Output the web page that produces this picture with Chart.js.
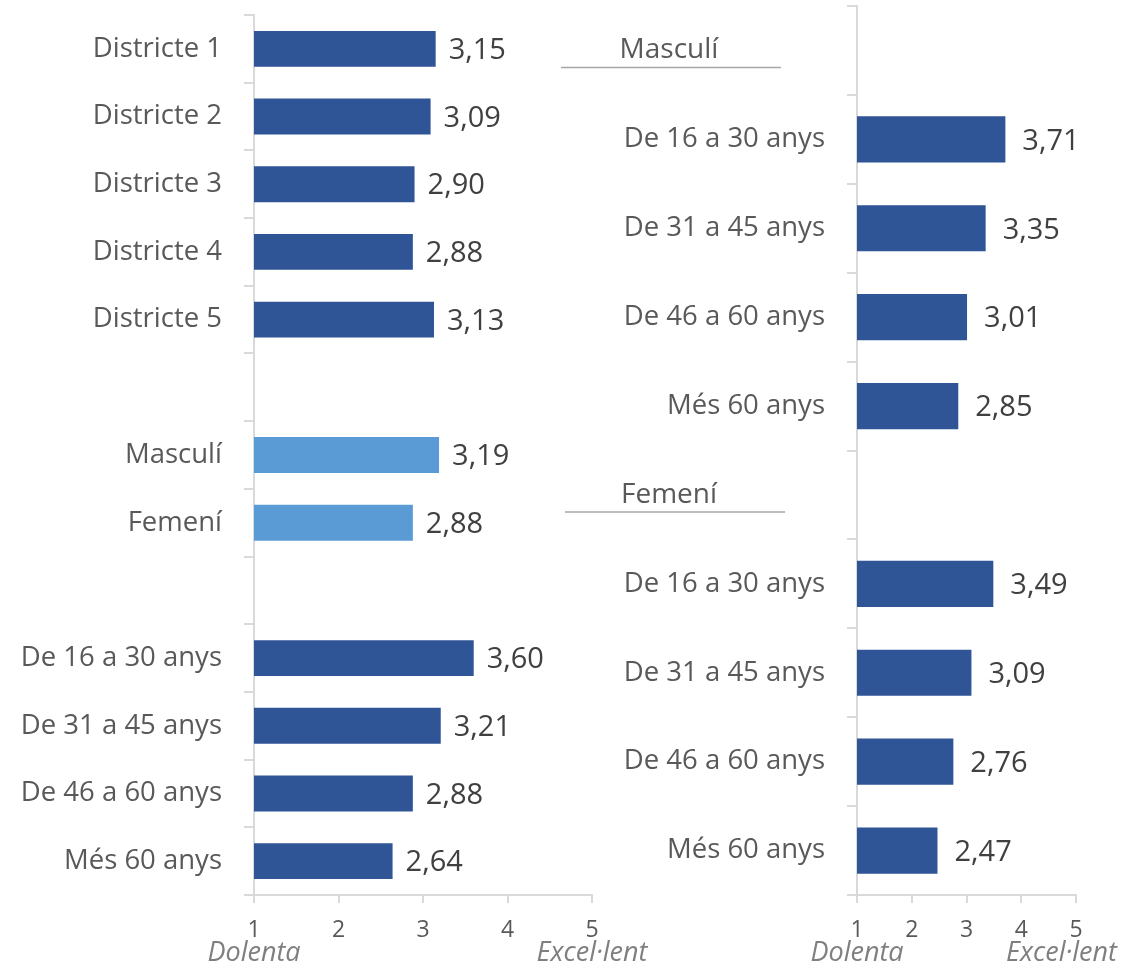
<!DOCTYPE html>
<html>
<head>
<meta charset="utf-8">
<script src="https://cdn.jsdelivr.net/npm/chart.js@4"></script>
<style>
  body { margin: 0; background: #fff; overflow: hidden; }
  #wrap { position: relative; width: 1122px; height: 965px; }
  canvas { position: absolute; top: 0; }
  #esquerra { left: 0; }
  #dreta { left: 540px; }
</style>
</head>
<body>
<div id="wrap">
  <canvas id="esquerra" width="660" height="965"></canvas>
  <canvas id="dreta" width="582" height="965"></canvas>
</div>
<script>
// dades del grafic de l'esquerra (files buides = separadors)
const categories_esq = ['Districte 1', 'Districte 2', 'Districte 3', 'Districte 4', 'Districte 5', '',
  'Masculí', 'Femení', '',
  'De 16 a 30 anys', 'De 31 a 45 anys', 'De 46 a 60 anys', 'Més 60 anys'];
const valors_esq = [3.15, 3.09, 2.90, 2.88, 3.13, null, 3.19, 2.88, null, 3.60, 3.21, 2.88, 2.64];

// dades del grafic de la dreta (edat dins de cada sexe)
const categories_dreta = ['', 'De 16 a 30 anys', 'De 31 a 45 anys', 'De 46 a 60 anys', 'Més 60 anys',
  '', 'De 16 a 30 anys', 'De 31 a 45 anys', 'De 46 a 60 anys', 'Més 60 anys'];
const valors_dreta = [null, 3.71, 3.35, 3.01, 2.85, null, 3.49, 3.09, 2.76, 2.47];
const grups_dreta = ['Masculí', 'Femení'];
const files_grups = [0, 5];

const escala_ticks = [1, 2, 3, 4, 5];
const etiqueta_min = 'Dolenta';
const etiqueta_max = 'Excel·lent';
const ressaltats = ['Masculí', 'Femení'];

const FONT = "'Open Sans', sans-serif";
const fosc = '#2F5597';
const clar = '#5B9BD5';
const gris_eix = '#d9d9d9';

function coma(v) {
  return v.toFixed(2).replace('.', ',');
}

// etiquetes de valor al final de cada barra
const etiquetes_valor = {
  id: 'etiquetes_valor',
  afterDatasetsDraw(chart, args, opts) {
    const ctx = chart.ctx;
    const meta = chart.getDatasetMeta(0);
    const data = chart.data.datasets[0].data;
    ctx.save();
    ctx.font = '29px ' + FONT;
    ctx.fillStyle = '#404040';
    ctx.textAlign = 'left';
    ctx.textBaseline = 'middle';
    meta.data.forEach((bar, i) => {
      if (data[i] == null) return;
      ctx.fillText(coma(data[i]), bar.x + opts.gap, bar.y + 2);
    });
    ctx.restore();
  }
};

// textos "Dolenta" / "Excel·lent" sota l'eix
const extrems_eix = {
  id: 'extrems_eix',
  afterDraw(chart) {
    const ctx = chart.ctx;
    const x = chart.scales.x;
    ctx.save();
    ctx.font = 'italic 27px ' + FONT;
    ctx.fillStyle = '#7f7f7f';
    ctx.textAlign = 'center';
    ctx.textBaseline = 'alphabetic';
    const y = chart.chartArea.bottom + 66;
    ctx.fillText(etiqueta_min, x.getPixelForValue(escala_ticks[0]), y);
    // si no hi cap, s'arrossega cap a l'esquerra com fa Excel
    const w = ctx.measureText(etiqueta_max).width;
    let cx = x.getPixelForValue(escala_ticks[escala_ticks.length - 1]);
    cx = Math.min(cx, chart.width - 5 - w / 2);
    ctx.fillText(etiqueta_max, cx, y);
    ctx.restore();
  }
};

// capçaleres de grup (Masculí / Femení) amb línia a sota
const capcaleres = {
  id: 'capcaleres',
  afterDraw(chart, args, opts) {
    if (!opts.grups) return;
    const ctx = chart.ctx;
    const y = chart.scales.y;
    const cx = chart.chartArea.left - 188;
    ctx.save();
    opts.grups.forEach((g, k) => {
      const py = y.getPixelForValue(opts.files[k]);
      ctx.font = '28px ' + FONT;
      ctx.fillStyle = '#595959';
      ctx.textAlign = 'center';
      ctx.textBaseline = 'middle';
      ctx.fillText(g, cx, py);
      ctx.strokeStyle = '#a6a6a6';
      ctx.lineWidth = 1.5;
      ctx.beginPath();
      ctx.moveTo(cx - 108 + k * 4, py + 17);
      ctx.lineTo(cx + 112 + k * 4, py + 17);
      ctx.stroke();
    });
    ctx.restore();
  }
};

function opcions(ampleEix, padTop, padRight, gap, extra) {
  return {
    responsive: false,
    animation: false,
    indexAxis: 'y',
    layout: { padding: { top: padTop, right: padRight, left: 0, bottom: 0 } },
    plugins: {
      legend: { display: false },
      tooltip: { enabled: false },
      etiquetes_valor: { gap: gap },
      capcaleres: extra || {}
    },
    scales: {
      x: {
        type: 'linear',
        min: 1,
        max: 5,
        afterBuildTicks: (s) => { s.ticks = escala_ticks.map(v => ({ value: v })); },
        afterFit: (s) => { s.height = 70; s.paddingLeft = 0; s.paddingRight = 0; },
        grid: { drawOnChartArea: false, drawTicks: true, tickLength: 8, color: gris_eix, lineWidth: 2 },
        border: { display: true, color: gris_eix, width: 2 },
        ticks: { padding: 14, color: '#595959', font: { family: FONT, size: 23 } }
      },
      y: {
        afterFit: (s) => { s.width = ampleEix; s.paddingTop = 0; s.paddingBottom = 0; },
        grid: { drawOnChartArea: false, drawTicks: true, tickLength: 10, color: gris_eix, lineWidth: 2 },
        border: { display: true, color: gris_eix, width: 2 },
        ticks: { padding: 22, color: '#595959', font: { family: FONT, size: 27.5 } }
      }
    }
  };
}

new Chart(document.getElementById('esquerra'), {
  type: 'bar',
  plugins: [etiquetes_valor, extrems_eix],
  data: {
    labels: categories_esq,
    datasets: [{
      data: valors_esq,
      backgroundColor: (c) => ressaltats.includes(categories_esq[c.dataIndex]) ? clar : fosc,
      barPercentage: 0.53,
      categoryPercentage: 1
    }]
  },
  options: opcions(254, 15, 68, 13)
});

new Chart(document.getElementById('dreta'), {
  type: 'bar',
  plugins: [etiquetes_valor, extrems_eix, capcaleres],
  data: {
    labels: categories_dreta,
    datasets: [{
      data: valors_dreta,
      backgroundColor: fosc,
      barPercentage: 0.52,
      categoryPercentage: 1
    }]
  },
  options: opcions(317, 6, 46, 17, { grups: grups_dreta, files: files_grups })
});
</script>
</body>
</html>
